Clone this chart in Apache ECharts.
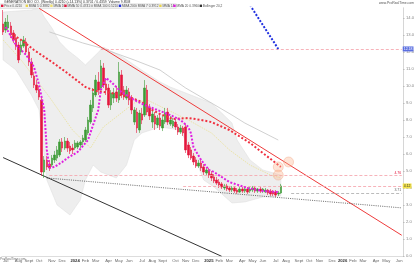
<!DOCTYPE html>
<html><head><meta charset="utf-8">
<script src="https://cdn.jsdelivr.net/npm/echarts/dist/echarts.min.js"></script>
<style>html,body{margin:0;padding:0;background:#fff}#c{width:420px;height:265px}</style>
</head><body><div id="c"></div>
<script>
// weekly categories
const startDate = '2023-06-19';
const weekCount = 156;
const monthNames = ['Jan','Feb','Mar','Apr','May','Jun','Jul','Aug','Sept','Oct','Nov','Dec'];

// OHLC (weekly)
const opens = [13.65,13.29,13.41,13.53,13.12,12.82,12.41,12.00,12.35,12.59,
12.00,11.41,10.59,10.06,9.76,9.18,4.94,5.65,5.41,5.35,
5.65,5.76,5.94,6.71,6.35,6.76,6.47,6.35,6.35,6.41,
6.53,6.71,6.82,7.24,7.88,8.71,9.47,10.24,9.88,11.06,
10.12,9.88,8.88,9.29,9.65,9.18,10.65,9.76,9.29,9.65,
9.29,7.88,8.47,7.41,8.35,8.29,9.76,8.71,7.88,8.24,
7.71,8.12,7.53,7.88,8.47,7.76,7.65,7.88,7.59,7.29,
7.53,7.59,6.53,6.24,5.88,5.65,5.29,5.47,5.24,4.88,
5.06,4.82,4.65,4.47,4.35,4.24,4.00,4.12,4.00,3.88,
4.00,3.88,3.76,3.94,3.82,3.94,3.82,3.88,4.00,3.82,
3.94,3.82,3.76,3.88,3.82,3.76,3.76,3.65,3.71];
const closes = [13.18,13.76,13.76,13.00,12.71,12.35,11.53,12.41,12.71,12.00,
11.41,10.65,10.06,9.76,9.35,4.94,5.65,5.24,5.18,5.76,
5.94,6.24,6.71,6.35,6.76,6.35,6.18,6.24,6.65,6.65,
6.71,6.94,7.41,8.00,8.88,9.59,10.35,9.76,11.18,10.06,
9.76,8.88,9.59,9.59,9.29,10.82,9.47,9.35,9.76,9.18,
8.59,8.59,7.53,8.41,8.00,9.88,8.47,8.24,8.35,7.76,
8.12,7.65,8.00,8.41,7.88,8.00,7.94,7.59,7.29,7.53,
7.24,6.24,5.94,5.76,5.53,5.29,5.47,5.18,4.94,5.06,
4.76,4.59,4.41,4.29,4.18,4.06,4.12,3.94,3.88,4.00,
3.82,3.76,3.94,3.82,3.94,3.76,3.94,4.00,3.82,3.94,
3.82,3.94,3.88,3.71,3.65,3.65,3.59,3.71,4.12];
const lows = [13.00,13.12,13.29,12.82,12.53,12.12,11.35,11.82,12.24,11.82,
11.18,10.47,9.88,9.59,9.18,4.71,4.59,5.06,5.00,5.24,
5.47,5.59,5.82,6.12,6.24,6.12,6.00,6.00,6.24,6.29,
6.35,6.53,6.71,7.12,7.76,8.47,9.35,9.47,9.76,9.88,
9.47,8.71,8.59,9.00,9.06,9.00,9.29,9.18,9.18,8.88,
8.35,7.71,7.24,7.24,7.76,8.18,8.29,8.00,7.53,7.41,
7.53,7.41,7.35,7.76,7.71,7.65,7.53,7.41,7.12,7.18,
7.06,6.06,5.76,5.65,5.35,5.18,5.18,5.00,4.76,4.76,
4.59,4.41,4.29,4.18,4.00,3.94,3.88,3.82,3.76,3.76,
3.71,3.65,3.71,3.71,3.71,3.65,3.71,3.76,3.71,3.71,
3.71,3.71,3.71,3.59,3.53,3.53,3.47,3.53,3.65];
const highs = [14.47,14.00,14.18,13.76,13.29,13.06,12.59,12.71,12.94,12.82,
12.24,11.65,10.82,10.35,10.00,9.41,5.88,5.88,5.65,5.94,
6.18,6.47,6.88,6.94,7.00,6.94,6.71,6.59,6.82,6.76,
6.82,7.12,7.59,8.18,9.18,9.88,10.65,10.82,11.53,11.35,
10.47,10.12,9.76,9.88,10.00,11.41,10.94,10.00,10.00,9.88,
9.47,8.76,8.71,8.59,8.71,10.35,10.06,8.94,8.59,8.47,
8.29,8.35,8.24,8.71,8.71,8.24,8.12,8.06,7.76,7.71,
7.65,7.76,6.71,6.41,6.06,5.82,5.65,5.65,5.41,5.18,
5.18,5.00,4.82,4.65,4.53,4.35,4.24,4.24,4.12,4.12,
4.12,4.00,4.06,4.06,4.06,4.06,4.06,4.12,4.12,4.00,
4.06,4.00,4.00,3.94,3.94,3.88,3.88,3.82,4.24];

// indicator lines: [weekIndex, value]
const fastMA = [[1,13.47],[5,12.41],[9,11.82],[12,11.12],[14,10.06],[16,8.59],[17,6.24],[18,5.18],[20,5.24],[23,5.53],[25,5.76],[29,6.12],[33,6.82],[35,7.71],[37,8.59],[38,9.76],[40,10.47],[42,10.24],[46,9.65],[51,9.18],[55,8.88],[60,8.59],[65,8.29],[69,8.00],[72,7.59],[73,7.24],[74,6.41],[77,5.65],[80,5.06],[82,4.94],[88,4.35],[95,4.00],[101,3.82],[107,3.76]];
const midMA = [[4,13.00],[7,12.71],[12,12.12],[19,11.41],[25,10.76],[32,9.94],[36,9.71],[42,9.59],[49,9.35],[54,9.06],[58,8.59],[61,8.35],[66,8.06],[72,8.12],[77,8.00],[81,7.88],[88,7.41],[96,6.65],[102,5.94],[108,5.24]];
const yellowMA = [[0,12.71],[7,11.53],[18,9.35],[27,7.41],[34,6.35],[39,7.59],[51,9.00],[56,9.18],[72,8.00],[81,7.24],[88,6.24],[96,5.35],[104,4.76],[108,4.59]];
const longMA = [[18,13.18],[31,12.53],[38,12.24],[51,11.53],[61,10.94],[71,9.88],[81,9.00],[89,8.29],[94,7.82],[107,6.82]];
const bbUpper = [[0,14.35],[11,14.47],[14,14.59],[16,14.06],[19,13.41],[22,12.59],[25,12.12],[29,11.65],[32,11.24],[36,11.82],[39,12.29],[47,11.65],[55,10.82],[61,10.24],[65,9.94],[73,9.47],[81,9.00],[89,7.82],[91,6.82],[96,5.65],[101,5.06],[108,4.76]];
const bbLower = [[0,11.53],[5,10.94],[11,9.47],[14,8.59],[17,4.47],[21,3.00],[26,2.41],[30,3.29],[32,4.47],[35,5.35],[38,4.94],[44,4.59],[48,5.35],[51,6.82],[54,7.24],[61,7.59],[69,7.41],[72,6.41],[76,5.24],[78,4.47],[82,4.06],[89,3.12],[94,3.18],[101,3.47],[108,3.53]];

// trend lines
const resistanceLine = [[14,14.57],[155,1.22]];
const blackTrend = [[0,5.79],[85,-0.02]];
const supportDotted = [[17,4.59],[155,2.83]];
const blueLine = [[96,14.76],[107,12.18]];

// horizontal levels
const levelHigh = 12.18, levelMid = 4.76, levelLast = 4.12, levelGray = 3.71;
const circles = [[111,5.53],[107,5.24],[107,4.76]];

const cats = [];
{ const d0 = new Date(startDate + 'T00:00:00Z');
  for (let i = 0; i < weekCount; i++) { const d = new Date(d0.getTime() + i*7*86400000); cats.push(d.toISOString().slice(0,10)); } }
function monthInfo(v){
  const d = new Date(v + 'T00:00:00Z');
  const e = new Date(d.getTime() + 6*86400000);
  if (d.getUTCDate() === 1) return {m:d.getUTCMonth(), y:d.getUTCFullYear()};
  if (e.getUTCDate() <= 6) return {m:e.getUTCMonth(), y:e.getUTCFullYear()};
  return null;
}
const ohlc = opens.map((o,i)=>[o, closes[i], lows[i], highs[i]]);

const legendItems = [
  ['#e4173d','Price 0.4210'],['#e8d44d','MMA 5 0.3882'],['#f0e070','MMA 10'],['#e4173d','MMA 50 0.4741'],['#bbbbbb','MMA 100 0.5210'],
  ['#2030e0','MMA 200'],['#bbbbbb','MMA 7 0.3912'],['#e8d44d','MMA 14'],['#e020e0','MMA 20 0.3960'],['#333333','Bollinger 20,2']
];
const graphics = [
  {type:'rect', left:0, top:3.6, shape:{width:176, height:4.6}, style:{fill:'#f2f2f2', stroke:'#cfcfcf', lineWidth:0.5}},
  {type:'text', left:4, top:0.2, style:{text:'GENERATION BIO CO. (Weekly) 0.4210 (+14.13%) 0.3701 / 0.4359  Volume 9.85M', fontSize:3.4, fill:'#333'}},
  {type:'text', right:6, top:1.2, style:{text:'www.ProRealTime.com', fontSize:3.4, fill:'#555'}},
  {type:'text', left:0, top:257.5, style:{text:'ProRealTime.com', fontSize:3.2, fill:'#777'}}
];
{ let x = 1;
  legendItems.forEach(([c,t])=>{
    graphics.push({type:'rect', left:x, top:4.6, shape:{width:2.4,height:2.4}, style:{fill:c}});
    graphics.push({type:'text', left:x+3.2, top:4.4, style:{text:t, fontSize:3.2, fill:'#555'}});
    x += 3.6 + t.length*1.75;
  });
}

const chart = echarts.init(document.getElementById('c'), null, {renderer:'canvas'});
const dotted = (data, color, width, dash, z) => ({type:'line', data, symbol:'none', silent:true, z, lineStyle:{color, width, type:dash}, clip:true});
chart.setOption({
  animation:false,
  backgroundColor:'#fff',
  grid:{left:0, right:17, top:7.8, bottom:9},
  xAxis:{type:'category', data:cats, boundaryGap:true,
    axisLine:{lineStyle:{color:'#bbb', width:0.5}}, axisTick:{show:false}, splitLine:{show:false},
    axisLabel:{margin:3, fontSize:4.2, color:'#666',
      interval:(i,v)=>!!monthInfo(v),
      formatter:(v)=>{const mi = monthInfo(v); if(!mi) return ''; return mi.m===0 ? '{y|'+mi.y+'}' : monthNames[mi.m];},
      rich:{y:{fontSize:4.2, fontWeight:'bold', color:'#333'}}}},
  yAxis:{type:'value', position:'right', min:0, max:14.6, interval:1, scale:false,
    axisLine:{show:true, lineStyle:{color:'#bbb', width:0.6}}, axisTick:{show:true, length:1.5, lineStyle:{color:'#bbb'}},
    splitLine:{show:false},
    axisLabel:{fontSize:4.2, color:'#888', margin:3, showMaxLabel:false, formatter:(v)=>v.toFixed(1)}},
  graphic:graphics,
  series:[
    {type:'custom', data:[[0,0]], z:1, silent:true, clip:true,
      renderItem:(params, api)=>{
        const pts = bbUpper.map(p=>api.coord(p)).concat(bbLower.slice().reverse().map(p=>api.coord(p)));
        return {type:'polygon', shape:{points:pts}, style:{fill:'#eeeeee', stroke:'#dddddd', lineWidth:0.5}};
      }},
    dotted(longMA, '#c4c4c4', 0.8, 'solid', 2),
    dotted(yellowMA, '#e8dc7a', 0.6, [1.5,1], 2),
    dotted(resistanceLine, '#ee3b3b', 1, 'solid', 3),
    dotted(blackTrend, '#333333', 1, 'solid', 3),
    dotted(supportDotted, '#444444', 0.8, [1,1.2], 3),
    {type:'candlestick', data:ohlc, barWidth:2, z:4,
      itemStyle:{color:'#3d9b35', color0:'#e4173d', borderColor:'#3d9b35', borderColor0:'#e4173d', borderWidth:0.6},
      markLine:{symbol:'none', silent:true, animation:false,
        data:[
          [{coord:[38,levelHigh], lineStyle:{color:'#f5a0a8', type:[3,2], width:0.8}, label:{show:true, position:'end', formatter:'12.18', fontSize:3.5, color:'#fff', backgroundColor:'#5b6fe0', padding:[0.5,1], distance:1}},{coord:[155,levelHigh]}],
          [{coord:[18,levelMid], lineStyle:{color:'#f5a0a8', type:[3,2], width:0.8}, label:{show:true, position:'insideEndTop', formatter:'4.76', fontSize:3.5, color:'#e4173d', distance:0.5}},{coord:[155,levelMid]}],
          [{coord:[70,levelLast], lineStyle:{color:'#f5a0a8', type:[3,2], width:0.8}, label:{show:true, position:'end', formatter:'4.12', fontSize:3.5, color:'#333', backgroundColor:'#f2e14a', padding:[0.5,1], distance:1}},{coord:[155,levelLast]}],
          [{coord:[112,levelGray], lineStyle:{color:'#aaaaaa', type:[3,2], width:0.8}, label:{show:true, position:'insideEndTop', formatter:'3.71', fontSize:3.5, color:'#666', distance:0.5}},{coord:[155,levelGray]}]
        ]}},
    dotted(midMA, '#f0303f', 2, [2,2], 5),
    dotted(fastMA, '#e020e0', 2, [2,1.6], 6),
    dotted(blueLine, '#1f2fe0', 2, [2,1.6], 6),
    {type:'scatter', data:circles, symbolSize:10, z:7, silent:true,
      itemStyle:{color:'rgba(252,180,140,0.45)', borderColor:'rgba(240,150,110,0.7)', borderWidth:0.6}}
  ]
});
</script></body></html>
